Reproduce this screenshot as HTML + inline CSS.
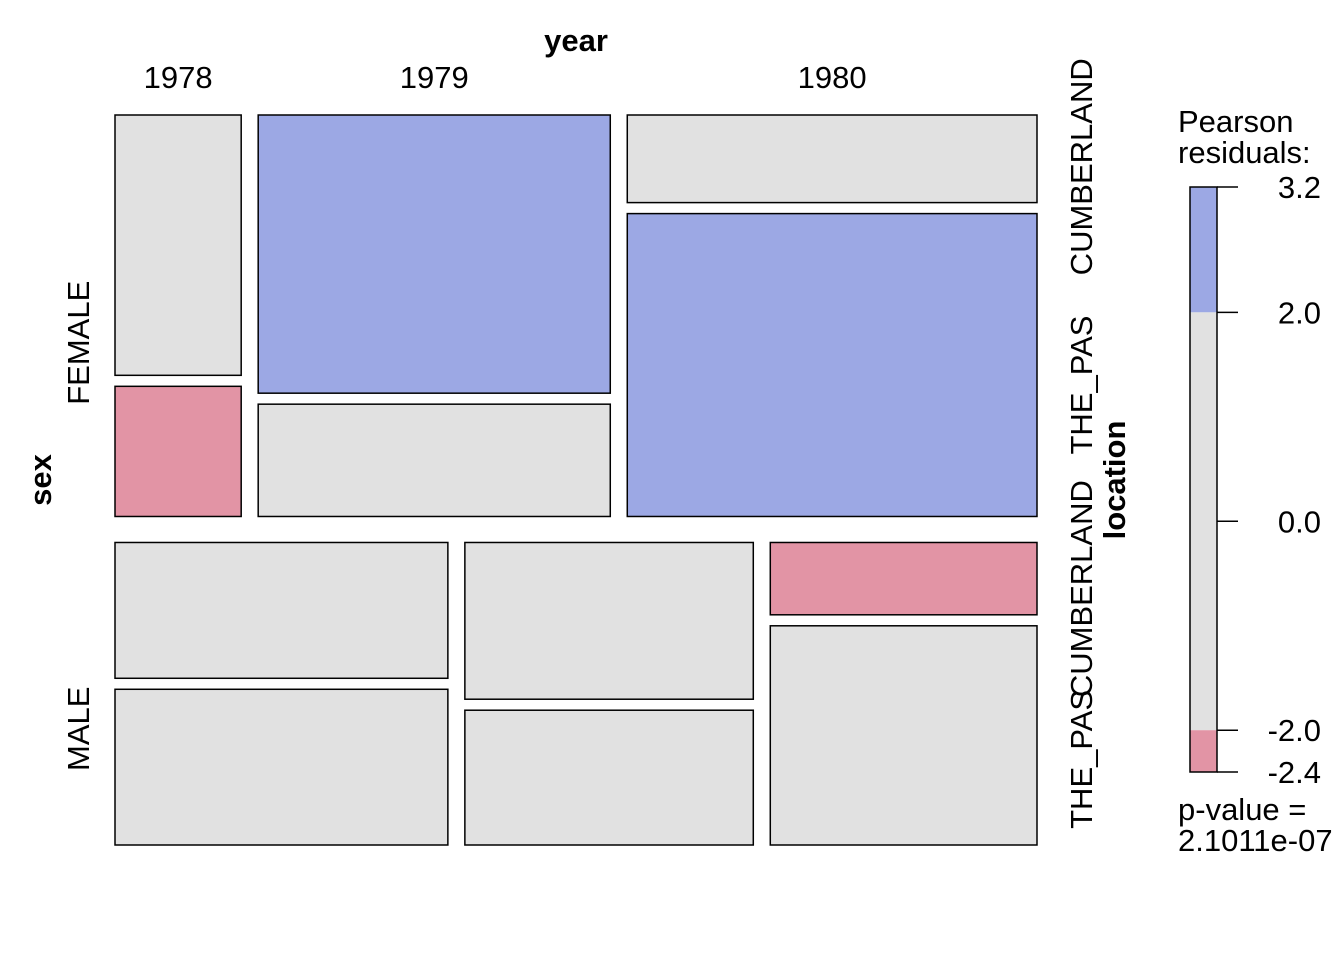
<!DOCTYPE html>
<html><head><meta charset="utf-8"><style>
html,body{margin:0;padding:0;background:#fff}
svg{display:block;font-family:"Liberation Sans",Arial,sans-serif}
</style></head><body>
<svg id="chart" width="1344" height="960" viewBox="0 0 1344 960" xmlns="http://www.w3.org/2000/svg">
<text x="576" y="51" font-size="31" font-weight="bold" text-anchor="middle">year</text>
<text transform="translate(51,480) rotate(-90)" font-size="31" font-weight="bold" text-anchor="middle">sex</text>
<text transform="translate(1125,480) rotate(-90)" font-size="31" font-weight="bold" text-anchor="middle">location</text>
<text x="1178" y="132" font-size="31">Pearson</text>
<text x="1178" y="163" font-size="31">residuals:</text>
<text x="1178" y="820" font-size="31">p-value =</text>
<text x="1178" y="851" font-size="31">2.1011e-07</text>
<g id="cells"></g>
<g id="legend"></g>
</svg>
<script>
const sexes = ["FEMALE","MALE"];
const years = ["1978","1979","1980"];
const locations = ["CUMBERLAND","THE_PAS"];
// counts[sex][year][location]
const counts = [
  [[54,27],[161,65],[59,204]],
  [[75,86],[75,64.5],[32,97]]
];
// residual classes: 1 = >2 (blue), 0 = neutral, -1 = < -2 (red)
const residualClass = [
  [[0,-1],[1,0],[0,1]],
  [[0,0],[0,0],[-1,0]]
];
const legendBreaks = [3.2,2.0,0.0,-2.0,-2.4];
const legendLabels = ["3.2","2.0","0.0","-2.0","-2.4"];

const NS="http://www.w3.org/2000/svg";
const FS=31;
const colors={"1":"#9ca8e4","0":"#e1e1e1","-1":"#e294a5"};
const X0=115,X1=1037,Y0=115,Y1=845,GS=26,GY=17,GL=11;
const locOff=[[8,20],[10,24]];
const g=document.getElementById('cells');
const svg=document.getElementById('chart');
function mk(tag,attrs){const e=document.createElementNS(NS,tag);for(const k in attrs)e.setAttribute(k,attrs[k]);return e;}
const sexTot=counts.map(s=>s.flat().reduce((a,b)=>a+b,0));
const total=sexTot[0]+sexTot[1];
const availH=(Y1-Y0)-GS*(sexes.length-1);
let y=Y0;
const sexLabelOff=[27,35];
sexes.forEach((s,i)=>{
  const h=availH*sexTot[i]/total;
  const availW=(X1-X0)-GY*(years.length-1);
  let x=X0;
  years.forEach((yr,j)=>{
    const ct=counts[i][j];
    const yt=ct[0]+ct[1];
    const w=availW*yt/sexTot[i];
    const availL=h-GL*(locations.length-1);
    let yy=y;
    locations.forEach((l,k)=>{
      const lh=availL*ct[k]/yt;
      const r=mk('rect',{x:x,y:yy,width:w,height:lh,fill:colors[residualClass[i][j][k]],stroke:'#000','stroke-width':1.5});
      
      
      g.appendChild(r);
      if(j===years.length-1){
        const t=mk('text',{transform:`translate(1092,${yy+lh/2+locOff[i][k]}) rotate(-90)`,'font-size':FS,'text-anchor':'middle'});
        t.textContent=l;
        
        
        svg.appendChild(t);
      }
      yy+=lh+GL;
    });
    if(i===0){
      const t=mk('text',{x:x+w/2,y:88,'font-size':FS,'text-anchor':'middle'});
      t.textContent=yr;
      
      
      svg.appendChild(t);
    }
    x+=w+GY;
  });
  const t=mk('text',{transform:`translate(89,${y+h/2+sexLabelOff[i]}) rotate(-90)`,'font-size':FS,'text-anchor':'middle'});
  t.textContent=s;
  
  
  svg.appendChild(t);
  y+=h+GS;
});
// legend
const lg=document.getElementById('legend');
const LT=187,LB=772,vmax=legendBreaks[0],vmin=legendBreaks[legendBreaks.length-1];
const ly=v=>LT+(vmax-v)*(LB-LT)/(vmax-vmin);
const segs=[[legendBreaks[0],legendBreaks[1],"1"],[legendBreaks[1],legendBreaks[3],"0"],[legendBreaks[3],legendBreaks[4],"-1"]];
segs.forEach((sg,i)=>{
  const r=mk('rect',{x:1190,y:ly(sg[0]),width:27,height:ly(sg[1])-ly(sg[0]),fill:colors[sg[2]]});
  
  
  lg.appendChild(r);
});
const fr=mk('rect',{x:1190,y:LT,width:27,height:LB-LT,fill:'none',stroke:'#000','stroke-width':1.5});


lg.appendChild(fr);
legendBreaks.forEach((v,i)=>{
  const yy=ly(v);
  const l=mk('line',{x1:1217,x2:1238,y1:yy,y2:yy,stroke:'#000','stroke-width':1.5});
  
  
  lg.appendChild(l);
  const t=mk('text',{x:1321,y:yy+11,'font-size':FS,'text-anchor':'end'});
  t.textContent=legendLabels[i];
  
  
  lg.appendChild(t);
});
</script>
</body></html>
